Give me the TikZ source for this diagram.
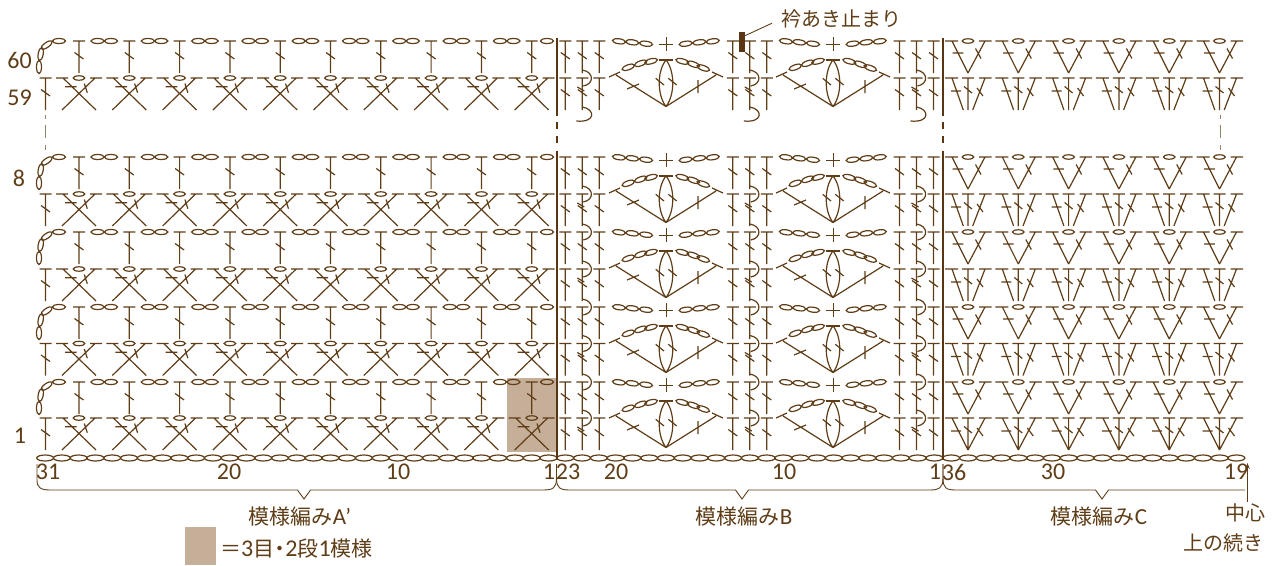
\documentclass[tikz,border=0pt]{standalone}
\usepackage{fontspec}
\setmainfont{Carlito}
\newfontfamily\cjk{Noto Sans CJK JP}
\usetikzlibrary{arrows.meta}
\definecolor{stc}{HTML}{5F3D17}
\definecolor{thick}{HTML}{5A3512}
\definecolor{swatch}{HTML}{C6AF98}
\tikzset{
  st/.style={draw=stc,line width=1.2pt},
  fine/.style={draw=stc,line width=0.9pt},
  rule/.style={draw=thick,line width=2pt},
  lab/.style={inner sep=0pt,text=stc,font=\fontsize{24}{28}\selectfont},
  jp/.style={inner sep=0pt,text=stc,font=\cjk\fontsize{20}{24}\selectfont},
  jpb/.style={inner sep=0pt,text=stc,font=\cjk\fontsize{21}{24}\selectfont},
}
% chain ellipse: x,y,angle
\newcommand\kmC[3]{\draw[st,shift={(#1,#2)},rotate=#3] (0,0) ellipse [x radius=6.6pt,y radius=2.5pt];}
% small chain
\newcommand\kmS[2]{\draw[st] (#1,#2) ellipse [x radius=5.8pt,y radius=2.2pt];}
% T stitch with slash
\newcommand\kmT[2]{\begin{scope}[shift={(#1,#2)}]
  \draw[st] (-6,0) -- (6,0) (0,0) -- (0,32) (-4.5,11.5) -- (4.5,18);
\end{scope}}
% section A, even row
\newcommand\kmAeven[1]{\begin{scope}[shift={(0,#1)}]
  \kmC{39}{26}{90}\kmC{40.7}{13}{80}\kmC{46.7}{4}{35}\kmC{59}{0}{0}
  \foreach \i in {0,...,9}{
    \pgfmathsetmacro\xx{79+50.3*\i}
    \kmT{\xx}{0}
  }
  \foreach \i in {0,...,8}{
    \pgfmathsetmacro\xa{79+50.3*\i+18.6}
    \pgfmathsetmacro\xb{79+50.3*\i+32}
    \kmC{\xa}{0}{0}\kmC{\xb}{0}{0}
  }
  \kmC{547}{0}{0}
\end{scope}}
% section A, odd row
\newcommand\kmAodd[1]{\kmT{45.5}{#1}
  \foreach \i in {0,...,9}{
    \pgfmathsetmacro\xx{79+50.3*\i}
    \begin{scope}[shift={(\xx,#1)}]
      \draw[st] (-17,32) -- (16,0) (17,32) -- (-16,0)
        (-23,0) -- (-11,0) (11,0) -- (23,0)
        (-14,8.7) -- (-2.3,8.7) (5.3,5.5) -- (8.3,14.7);
      \kmS{0}{0}
    \end{scope}
  }}
% section C, even row
\newcommand\kmCeven[1]{\foreach \i in {0,...,5}{
    \pgfmathsetmacro\xx{968+50.3*\i}
    \begin{scope}[shift={(\xx,#1)}]
      \draw[st] (0,32) -- (-16,0) (0,32) -- (17,0)
        (-23,0) -- (-10,0) (11,0) -- (23.5,0)
        (-15.3,12) -- (-4.7,12) (7.5,7.5) -- (13,17.5);
      \kmS{0}{0}
    \end{scope}
  }}
% section C, odd row: #2 = half spread at the foot
\newcommand\kmCodd[2]{\foreach \i in {0,...,5}{
    \pgfmathsetmacro\xx{968+50.3*\i}
    \begin{scope}[shift={(\xx,#1)}]
      \draw[st] (-#2,32) -- (-16,0) (#2,32) -- (17,0) (0,0) -- (0,32)
        (-23,0) -- (-10,0) (-6,0) -- (6,0) (11,0) -- (23.5,0)
        (-17,13) -- (-7,13) (-4,8.5) -- (4,15) (9,10) -- (15,18);
    \end{scope}
  }}
% section B lace, even + odd rows
\newcommand\kmLace[2]{\begin{scope}[shift={(#1,#2)}]
  \kmC{-47}{0.3}{-8}\kmC{-33.7}{1.3}{-8}\kmC{-20}{2.7}{-8}
  \kmC{19.7}{2.7}{8}\kmC{33.3}{1.3}{8}\kmC{46.7}{0.3}{8}
  \draw[fine] (-7,3) -- (7,3) (0,-4) -- (0,10);
  \draw[st] (-7,19) -- (7,19);
  \kmC{-37.7}{26.3}{20}\kmC{-25.3}{22.3}{20}\kmC{-15}{20.3}{15}
  \kmC{16.3}{20.3}{-15}\kmC{27.3}{23.3}{-20}\kmC{37.3}{27}{-20}
  \draw[st] (0,19) .. controls (-9,30) and (-9,54) .. (0,65.5)
            (0,19) .. controls (9,30) and (9,54) .. (0,65.5);
  \draw[st] (-10.3,37.3) -- (-2,44) (2.3,37.3) -- (10.7,44);
  \draw[st] (0,65.5) -- (-50,34) (0,65.5) -- (50,34)
     (-57,36) -- (-46,31) (46,31) -- (57,36)
     (-39,48) -- (-27,43) (32,39) -- (32,52);
\end{scope}}
% section B group of three T, two rows
\newcommand\kmGroup[3]{\foreach \yy in {#2,#3}{
    \kmT{#1-17}{\yy}\kmT{#1}{\yy}\kmT{#1+17}{\yy}
  }
  \draw[st] (#1-5,#3+9) -- (#1+2,#3+13);}
\newcommand\kmHook[2]{\draw[st] (#1,#2-8) .. controls (#1+12,#2-6) and (#1+12,#2+6) .. (#1+1,#2+8);}
\begin{document}
\begin{tikzpicture}[x=1pt,y=-1pt]
\useasboundingbox (0,0) rectangle (1277,565);
\fill[swatch] (507,378) rectangle (556,452);
% rows
\foreach \y/\yo/\sp in {41/78/4.7,157/194/4.7,232/269/4.7,307/343.5/4.7,382/418/0}{
  \kmAeven{\y}
  \kmAodd{\yo}
  \kmCeven{\y}
  \kmCodd{\yo}{\sp}
  \kmLace{666}{\y}
  \kmLace{833}{\y}
  \kmGroup{582.3}{\y}{\yo}
  \kmGroup{749.8}{\y}{\yo}
  \kmGroup{916.5}{\y}{\yo}
}
\foreach \mx in {582.3,749.8,916.5}{
  \foreach \yy in {78,194,232,269,307,343.5,382,418}{\kmHook{\mx}{\yy}}
  \draw[st] (\mx,107) .. controls (\mx+13,109) and (\mx+14,123) .. (\mx-6,121);
}
% foundation chain
\foreach \i in {0,...,71}{
  \pgfmathsetmacro\xx{36.7+16.78*(\i+0.5)}
  \draw[st] (\xx,458) ellipse [x radius=8.4pt,y radius=3pt];
}
% section rules
\foreach \xx in {556.5,942.8}{
  \draw[rule] (\xx,38) -- (\xx,116) (\xx,122) -- (\xx,128.5) (\xx,136) -- (\xx,143) (\xx,150.5) -- (\xx,460);
}
% row-gap dashes
\foreach \xx in {45.5,1220}{
  \draw[fine,draw=stc!65] (\xx,115) -- (\xx,119) (\xx,125) -- (\xx,138) (\xx,145) -- (\xx,150);
}
% braces
\draw[fine] (37,464) -- (37,480) .. controls (37,487) and (40,490) .. (50,490) -- (297.5,490) -- (304,499) -- (310.5,490) -- (543,490) .. controls (553,490) and (556.5,488) .. (556.5,478) -- (556.5,464);
\draw[fine] (556.5,464) -- (556.5,478) .. controls (556.5,488) and (560,490) .. (570,490) -- (735.5,490) -- (742,499) -- (748.5,490) -- (930,490) .. controls (939,490) and (943,488) .. (943,478) -- (943,464);
\draw[fine] (943,464) -- (943,478) .. controls (943,488) and (946,490) .. (956,490) -- (1095.5,490) -- (1102,499) -- (1108.5,490) -- (1245,490);
% swatch legend
\fill[swatch] (185,527) rectangle (216,565);
% numbers
\node[lab] (n60) at (19.5,60) {60};
\node[lab] (n59) at (19.5,98) {59};
\node[lab] (n8) at (19,178) {8};
\node[lab] (n1) at (20,436) {1};
\node[lab] (a31) at (48,472) {31};
\node[lab] (a20) at (229,472) {20};
\node[lab] (a10) at (398,472) {10};
\node[lab] (a1) at (549,472) {1};
\node[lab] (b23) at (568,472) {23};
\node[lab] (b20) at (616,472) {20};
\node[lab] (b10) at (784,472) {10};
\node[lab] (b1) at (935,472) {1};
\node[lab] (c36) at (954,472) {36};
\node[lab] (c30) at (1053,472) {30};
\node[lab] (c19) at (1236,472) {19};
% pattern names
\node[jpb] (pa) at (300,517) {模様編み{\rmfamily\fontsize{23}{26}\selectfont A’}};
\node[jpb] (pb) at (744,517) {模様編み{\rmfamily\fontsize{23}{26}\selectfont B}};
\node[jpb] (pc) at (1099,517) {模様編み{\rmfamily\fontsize{23}{26}\selectfont C}};
\node[jpb,anchor=west] (leg) at (220,549) {＝{\rmfamily\fontsize{24}{26}\selectfont 3}目\kern-5pt・\kern-5pt{\rmfamily\fontsize{24}{26}\selectfont 2}段{\rmfamily\fontsize{24}{26}\selectfont 1}模様};
\node[jp] (cen) at (1245,513) {中心};
\node[jp,anchor=east] (cont) at (1264,543) {上の続き};
\node[jp,anchor=west] (stop) at (781,19) {衿あき止まり};
% marker with leader
\node[fill=thick,inner sep=0pt,minimum width=5.6pt,minimum height=20pt] (mk) at (742.2,41.8) {};
\coordinate (ldr) at (772,23.2);
\draw[fine] (mk.north east) ++(0,4) -- (ldr);
% centre arrow
\coordinate (tip) at (1247.5,463);
\coordinate (tail) at (1247.5,502);
\draw[fine,-{Stealth[length=6pt,width=4.5pt]}] (tail) -- (tip);
\end{tikzpicture}
\end{document}
